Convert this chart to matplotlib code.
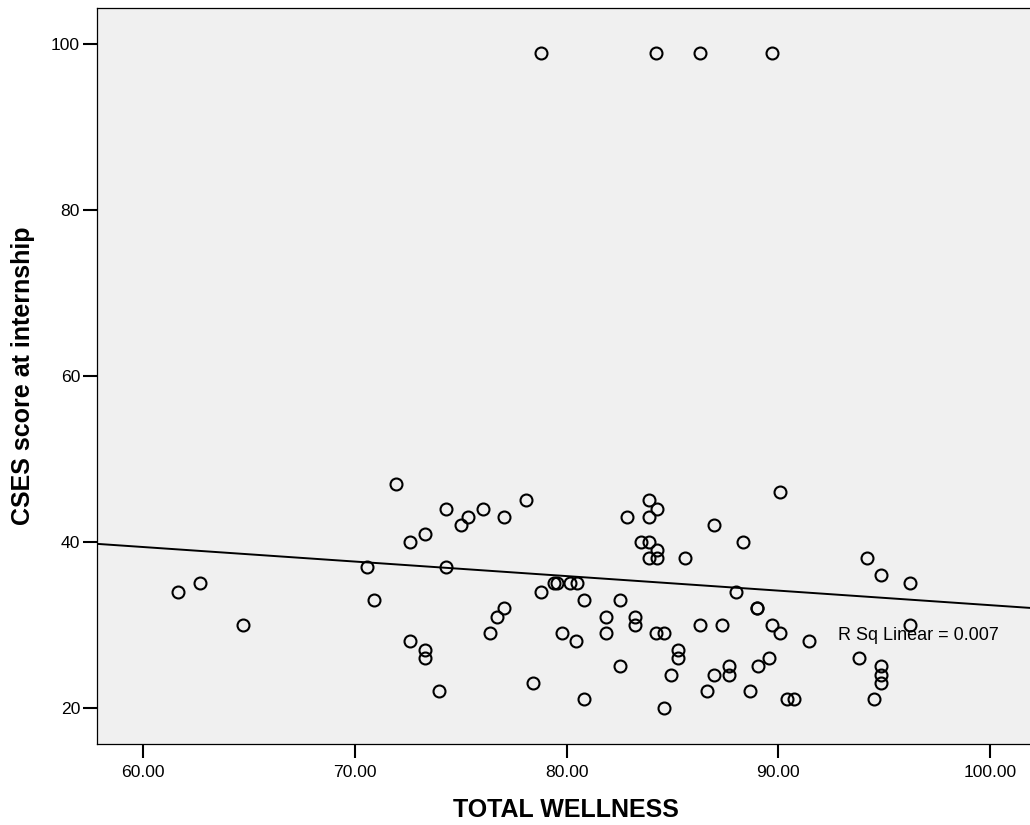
import numpy as np
import matplotlib.pyplot as plt

plt.rcParams['font.family'] = ['Liberation Sans', 'DejaVu Sans']

# total wellness score vs. CSES score at internship, one pair per student
wellness = [
    71.92, 74.31, 75.35, 74.99, 73.29, 72.60, 70.55, 74.31, 61.64, 62.66,
    70.90, 64.72, 72.60, 73.29, 73.29, 73.97, 76.03, 77.05, 78.09, 82.88,
    83.90, 84.27, 83.90, 83.54, 83.90, 84.27, 83.90, 84.27, 85.62, 86.99,
    88.36, 79.41, 79.53, 80.16, 80.49, 78.77, 80.82, 82.53, 88.01, 89.02,
    89.02, 77.05, 76.71, 76.38, 81.86, 83.23, 83.23, 81.86, 79.79, 80.47,
    84.25, 84.60, 86.30, 87.34, 85.27, 85.27, 82.53, 84.93, 86.99, 87.68,
    87.68, 89.04, 86.63, 88.69, 78.42, 80.82, 84.60, 90.08, 94.18, 94.86,
    96.23, 89.73, 90.08, 91.45, 96.23, 89.57, 90.42, 90.77, 93.84, 94.86,
    94.86, 94.86, 94.52, 78.79, 84.25, 86.31, 89.73,
]
cses = [
    47, 44, 43, 42, 41, 40, 37, 37, 34, 35,
    33, 30, 28, 27, 26, 22, 44, 43, 45, 43,
    45, 44, 43, 40, 40, 39, 38, 38, 38, 42,
    40, 35, 35, 35, 35, 34, 33, 33, 34, 32,
    32, 32, 31, 29, 31, 31, 30, 29, 29, 28,
    29, 29, 30, 30, 27, 26, 25, 24, 24, 25,
    24, 25, 22, 22, 23, 21, 20, 46, 38, 36,
    35, 30, 29, 28, 30, 26, 21, 21, 26, 25,
    24, 23, 21, 99, 99, 99, 99,
]
x_ticks = [60, 70, 80, 90, 100]
y_ticks = [20, 40, 60, 80, 100]
r_sq_text = 'R Sq Linear = 0.007'

x = np.array(wellness)
y = np.array(cses)
slope, intercept = np.polyfit(x, y, 1)

fig = plt.figure(figsize=(10.30, 8.25), dpi=100)
ax = fig.add_axes([0.0939, 0.0978, 0.9061, 0.8925])
ax.set_facecolor('#f0f0f0')

ax.plot(x, y, linestyle='none', marker='o', markersize=8.6,
        markerfacecolor='none', markeredgecolor='black', markeredgewidth=1.5)

xlim = (57.8, 101.9)
line_x = np.array(xlim)
ax.plot(line_x, intercept + slope * line_x, color='black', linewidth=1.4)

ax.text(92.85, 28.66, r_sq_text, fontsize=13, va='center', ha='left')

ax.set_xlim(*xlim)
ax.set_ylim(15.59, 104.38)
ax.set_xticks(x_ticks)
ax.set_xticklabels(['%.2f' % t for t in x_ticks])
ax.set_yticks(y_ticks)
ax.set_yticklabels([str(t) for t in y_ticks])
ax.tick_params(direction='out', length=10, width=1.5, labelsize=12.6)
ax.tick_params(axis='x', pad=5)
ax.tick_params(axis='y', pad=2)

ax.spines['right'].set_visible(False)
for side in ['left', 'bottom', 'top']:
    ax.spines[side].set_linewidth(0.9)

ax.set_xlabel('TOTAL WELLNESS', fontsize=18, fontweight='bold', labelpad=12.5)
ax.set_ylabel('CSES score at internship', fontsize=18, fontweight='bold', labelpad=11.5)
ax.xaxis.label.set_x(0.503)

fig.savefig('out.png', dpi=100)
